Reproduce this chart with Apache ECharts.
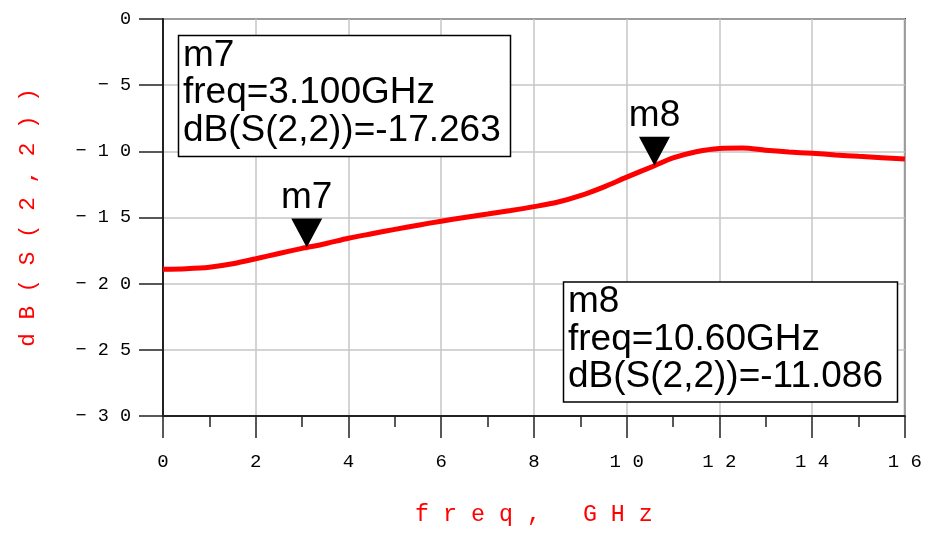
<!DOCTYPE html>
<html>
<head>
<meta charset="utf-8">
<title>dB(S(2,2))</title>
<script src="https://cdn.jsdelivr.net/npm/echarts@6/dist/echarts.min.js"></script>
<style>
  html, body { margin: 0; padding: 0; background: #fff; }
  #chart { width: 925px; height: 539px; }
</style>
</head>
<body>
<div id="chart"></div>
<script>
// 频率 (GHz)
const freq = [0, 0.5, 1, 1.5, 2, 2.5, 3, 3.1, 3.5, 4, 4.5, 5, 5.5, 6, 6.5, 7, 7.5, 8,
  8.5, 9, 9.5, 10, 10.6, 11, 11.5, 12, 12.5, 13, 13.5, 14, 14.5, 15, 15.5, 16]
// dB(S(2,2))
const s22 = [-18.91, -18.87, -18.76, -18.5, -18.12, -17.72, -17.33, -17.263, -16.98, -16.57,
  -16.23, -15.9, -15.58, -15.28, -15.0, -14.74, -14.47, -14.18, -13.85, -13.35, -12.7,
  -11.95, -11.086, -10.5, -10.03, -9.78, -9.75, -9.92, -10.05, -10.15, -10.27, -10.38,
  -10.48, -10.58]

// 标记点
const markerNames = ['m7', 'm8']
const markerFreq = [3.1, 10.6]
const markerDb = [-17.263, -11.086]

// 坐标轴刻度
const xTicks = [0, 2, 4, 6, 8, 10, 12, 14, 16]
const yTicks = [0, -5, -10, -15, -20, -25, -30]

const RED = '#ff0000'
const MONO = '"Liberation Mono", "DejaVu Sans Mono", monospace'
const SANS = '"Liberation Sans", Arial, sans-serif'

// 字符之间加空格，模仿原图的宽间距
function spaced(s) {
  return String(s).replace('-', '\u2212').split('').join(' ')
}

const chart = echarts.init(document.getElementById('chart'))

// 标记信息框（像素位置）
const boxes = [
  { x: 178.5, y: 35.5, w: 332, h: 121 },
  { x: 563.5, y: 282, w: 334, h: 120 }
]
const graphic = []
markerNames.forEach((name, i) => {
  const b = boxes[i]
  graphic.push({
    type: 'rect',
    z: 100,
    shape: { x: b.x, y: b.y, width: b.w, height: b.h },
    style: { fill: '#fff', stroke: '#000', lineWidth: 1.5 }
  })
  graphic.push({
    type: 'text',
    z: 101,
    x: b.x + 4.5,
    y: b.y + 1.5,
    style: {
      text: name + '\nfreq=' + markerFreq[i].toPrecision(4) + 'GHz\ndB(S(2,2))=' + markerDb[i].toFixed(3),
      font: '37px ' + SANS,
      lineHeight: 37.5,
      fill: '#000',
      verticalAlign: 'top'
    }
  })
})

const option = {
  animation: false,
  grid: {
    left: 163,
    top: 19,
    right: 20,
    bottom: 123,
    show: true,
    borderColor: '#222',
    borderWidth: 2
  },
  xAxis: {
    type: 'value',
    min: xTicks[0],
    max: xTicks[xTicks.length - 1],
    interval: 2,
    name: spaced('freq, GHz'),
    nameLocation: 'middle',
    nameGap: 87,
    nameTextStyle: { color: RED, fontFamily: MONO, fontSize: 23.3 },
    axisLine: { onZero: false, lineStyle: { color: '#222', width: 2 } },
    axisTick: { length: 22, lineStyle: { color: '#222', width: 1.5 } },
    minorTick: { show: true, splitNumber: 2, length: 11, lineStyle: { color: '#222', width: 1.5 } },
    axisLabel: {
      margin: 36,
      color: '#000',
      fontFamily: MONO,
      fontSize: 19,
      formatter: v => spaced(v)
    },
    splitLine: { lineStyle: { color: '#c6c6c6', width: 1.5 } }
  },
  yAxis: {
    type: 'value',
    min: yTicks[yTicks.length - 1],
    max: yTicks[0],
    interval: 5,
    name: spaced('dB(S(2,2))'),
    nameLocation: 'middle',
    nameGap: 124,
    nameRotate: 90,
    nameTextStyle: { color: RED, fontFamily: MONO, fontSize: 22.7 },
    axisLine: { onZero: false, lineStyle: { color: '#222', width: 2 } },
    axisTick: { length: 24, lineStyle: { color: '#222', width: 1.5 } },
    axisLabel: {
      margin: 32,
      color: '#000',
      fontFamily: MONO,
      fontSize: 18.5,
      formatter: v => spaced(v)
    },
    splitLine: { lineStyle: { color: '#c6c6c6', width: 1.5 } }
  },
  series: [
    {
      type: 'line',
      data: freq.map((f, i) => [f, s22[i]]),
      smooth: 0.3,
      showSymbol: false,
      lineStyle: { color: RED, width: 5 },
      markPoint: {
        symbol: 'path://M0,0 L2,0 L1,2 Z',
        symbolSize: [31, 29],
        symbolKeepAspect: false,
        symbolOffset: [0, '-50%'],
        itemStyle: { color: '#000' },
        label: {
          show: true,
          position: 'top',
          distance: 2,
          formatter: '{b}',
          color: '#000',
          fontFamily: SANS,
          fontSize: 37
        },
        data: markerNames.map((n, i) => ({ name: n, coord: [markerFreq[i], markerDb[i]] }))
      }
    }
  ],
  graphic: graphic
}

chart.setOption(option)
</script>
</body>
</html>
